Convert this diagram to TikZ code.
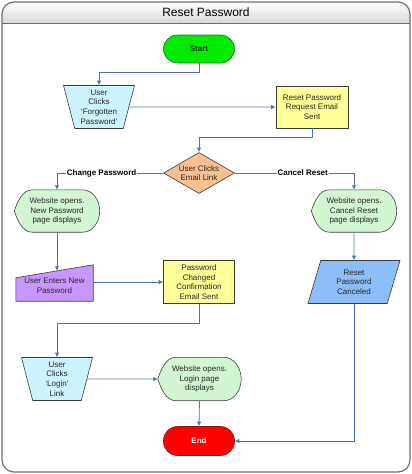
\documentclass[tikz,border=0pt]{standalone}
\usepackage{fontspec}
\setmainfont{Liberation Sans}
\usetikzlibrary{arrows.meta, shapes.geometric, backgrounds, calc}

\definecolor{linkblue}{RGB}{79,115,178}
\definecolor{startgreen}{RGB}{0,235,0}
\definecolor{startedge}{RGB}{30,110,30}
\definecolor{endred}{RGB}{255,0,0}
\definecolor{endedge}{RGB}{130,20,20}
\definecolor{cyanbox}{RGB}{204,244,255}
\definecolor{yellowbox}{RGB}{255,255,153}
\definecolor{orangebox}{RGB}{250,192,143}
\definecolor{mintbox}{RGB}{210,245,210}
\definecolor{purplebox}{RGB}{200,150,255}
\definecolor{bluebox}{RGB}{140,190,250}
\definecolor{edge}{RGB}{60,60,60}
\definecolor{framegray}{RGB}{110,110,110}

\begin{document}
\begin{tikzpicture}[x=1pt,y=-1pt,
  font=\fontsize{8}{9.7}\selectfont,
  box/.style={draw=edge, line width=0.6pt, align=center, inner sep=0pt, text=black!85},
  term/.style={box, rectangle, rounded corners=14pt, minimum width=71pt, minimum height=28pt, font=\fontsize{8}{9.7}\selectfont\bfseries},
  proc/.style={box, rectangle, fill=yellowbox, minimum width=72pt, minimum height=42pt},
  clicks/.style={box, trapezium, trapezium left angle=108, trapezium right angle=108, trapezium stretches body, fill=cyanbox, text width=42pt, minimum height=43pt, minimum width=71pt},
  disp/.style={align=center, inner sep=0pt, minimum width=85pt, minimum height=42pt, text=black!85},
  conn/.style={draw=linkblue, line width=0.8pt, -{Latex[length=4.5pt,width=4.5pt]}},
  lbl/.style={font=\fontsize{8}{9.7}\selectfont\bfseries, fill=white, inner sep=1pt}]
\useasboundingbox (0,0) rectangle (412,474);

\node (title) at (206,12.5) {\fontsize{12}{14}\selectfont Reset Password};

\node[term, fill=startgreen, draw=startedge] (start) at (199,49) {Start};
\node[clicks] (forgot) at (99,107) {User\\Clicks\\`Forgotten\\Password'};
\node[proc] (reqsent) at (312,107) {Reset Password\\Request Email\\Sent};
\node[box, diamond, aspect=1.75, fill=orangebox, minimum width=71pt, minimum height=41pt] (decide) at (199,173) {User Clicks\\Email Link};

\node[disp] (newpw) at (57,211) {Website opens.\\New Password\\page displays};
\node[disp] (cancelpw) at (354,211) {Website opens.\\Cancel Reset\\page displays};

\node[align=center, inner sep=0pt, minimum width=77pt, minimum height=30pt, text=black!85] (enternew) at (54.5,286) {User Enters New\\Password};
\node[proc, minimum width=71pt, minimum height=43pt] (changed) at (199,282) {Password\\Changed\\Confirmation\\Email Sent};
\node[box, trapezium, trapezium left angle=63, trapezium right angle=117, trapezium stretches body, fill=bluebox, text width=60pt, minimum height=43pt, minimum width=92pt] (canceled) at (354,282) {Reset\\Password\\Canceled};

\node[clicks] (login) at (57,379) {User\\Clicks\\`Login'\\Link};
\node[disp, minimum width=83pt, minimum height=43pt] (loginpg) at (199.5,379) {Website opens.\\Login page\\displays};
\node[term, fill=endred, draw=endedge, text=white, minimum height=29pt] (end) at (199,441) {End};

\begin{scope}[on background layer]
% frame with title band
\begin{scope}
\path[clip, rounded corners=12pt] (2,2) rectangle (410,472);
\shade[top color=white, bottom color=black!15] (2,2) rectangle (410,23);
\end{scope}
\draw[framegray, line width=1.2pt, rounded corners=12pt] (2,2) rectangle (410,472);
\draw[framegray, line width=1pt] (2,23) -- (410,23);
% display shapes
\foreach \n in {newpw,cancelpw,loginpg}
  \draw[draw=edge, line width=0.6pt, fill=mintbox]
    ($(\n.north west)+(18,0)$) -- ($(\n.north east)+(-17,0)$)
    .. controls ($(\n.north east)+(-7.6,0)$) and ($(\n.east)+(0,-11.6)$) .. (\n.east)
    .. controls ($(\n.east)+(0,11.6)$) and ($(\n.south east)+(-7.6,0)$) .. ($(\n.south east)+(-17,0)$)
    -- ($(\n.south west)+(18,0)$)
    .. controls ($(\n.south west)+(8,0)$) and ($(\n.west)+(3,9)$) .. (\n.west)
    .. controls ($(\n.west)+(3,-9)$) and ($(\n.north west)+(8,0)$) .. ($(\n.north west)+(18,0)$)
    -- cycle;
% manual input
\draw[draw=edge, line width=0.6pt, fill=purplebox] (enternew.south west) -- ($(enternew.north west)+(0,7)$)
  -- ($(enternew.north east)+(0,-6)$) -- (enternew.south east) -- cycle;
\end{scope}

\draw[conn] (start.south) -- ++(0,9) -| (forgot.north);
\draw[conn] (forgot.east) -- (reqsent.west);
\draw[conn] (reqsent.south) -- ++(0,9) -| (decide.north);
\draw[conn] (decide.west) -| node[lbl, pos=0.29] {Change Password} (newpw.north);
\draw[conn] (decide.east) -| node[lbl, pos=0.285] {Cancel Reset} (cancelpw.north);
\draw[conn] (newpw.south) -- (newpw.south |- enternew.north);
\draw[conn] (enternew.east |- changed.west) -- (changed.west);
\draw[conn] (changed.south) -- ++(0,20) -| (login.north);
\draw[conn] (login.east) -- (loginpg.west);
\draw[conn] (loginpg.south) -- (end.north);
\draw[conn] (cancelpw.south) -- (canceled.north);
\draw[conn] (canceled.south) |- (end.east);

\end{tikzpicture}
\end{document}
